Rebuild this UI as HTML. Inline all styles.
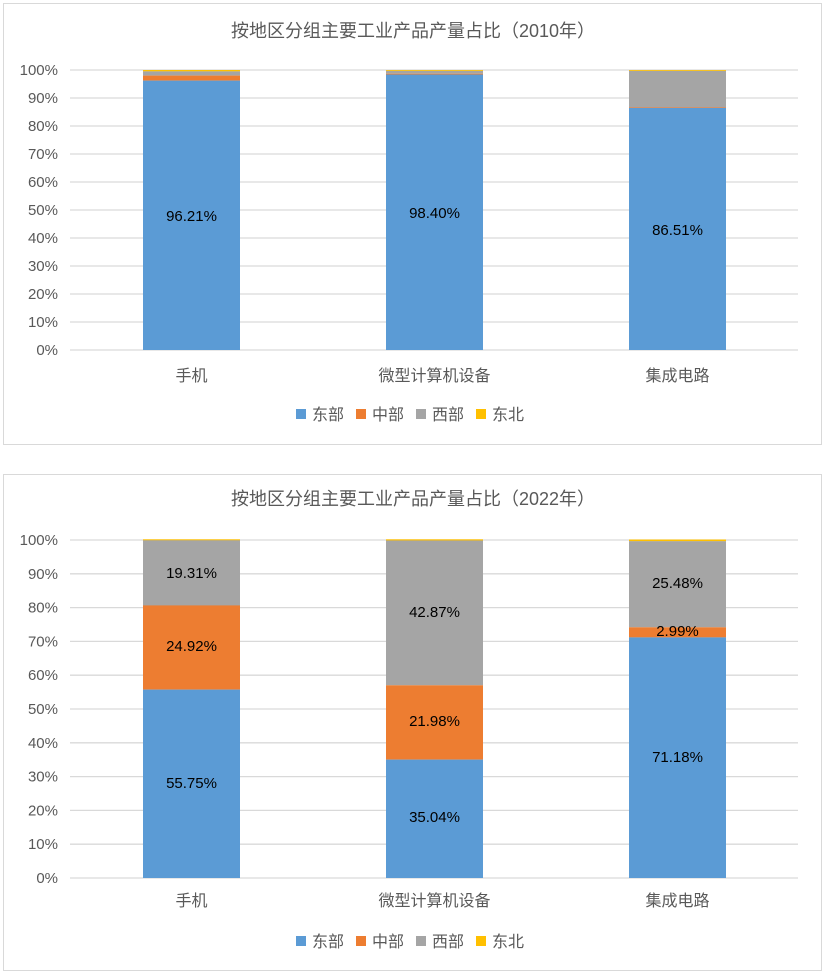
<!DOCTYPE html>
<html><head><meta charset="utf-8"><style>
body{margin:0;background:#fff;}
svg{display:block;font-family:"Liberation Sans","Noto Sans CJK SC",sans-serif;}
</style></head><body>
<svg width="826" height="976" viewBox="0 0 826 976" xmlns="http://www.w3.org/2000/svg">
<rect width="826" height="976" fill="#fff"/>
<rect x="3.5" y="3.5" width="818" height="441" fill="#fff" stroke="#d9d9d9"/>
<rect x="3.5" y="474.5" width="818" height="496" fill="#fff" stroke="#d9d9d9"/>
<g fill="#595959" font-size="18" text-anchor="middle">
<text x="413" y="37">按地区分组主要工业产品产量占比（2010年）</text>
<text x="413" y="505">按地区分组主要工业产品产量占比（2022年）</text>
</g>
<g stroke="#d9d9d9" stroke-width="1.3">
<line x1="70" x2="798" y1="70" y2="70"/><line x1="70" x2="798" y1="98" y2="98"/><line x1="70" x2="798" y1="126" y2="126"/><line x1="70" x2="798" y1="154" y2="154"/><line x1="70" x2="798" y1="182" y2="182"/><line x1="70" x2="798" y1="210" y2="210"/><line x1="70" x2="798" y1="238" y2="238"/><line x1="70" x2="798" y1="266" y2="266"/><line x1="70" x2="798" y1="294" y2="294"/><line x1="70" x2="798" y1="322" y2="322"/><line x1="70" x2="798" y1="350" y2="350"/>
<line x1="70" x2="798" y1="540" y2="540"/><line x1="70" x2="798" y1="573.8" y2="573.8"/><line x1="70" x2="798" y1="607.6" y2="607.6"/><line x1="70" x2="798" y1="641.4" y2="641.4"/><line x1="70" x2="798" y1="675.2" y2="675.2"/><line x1="70" x2="798" y1="709" y2="709"/><line x1="70" x2="798" y1="742.8" y2="742.8"/><line x1="70" x2="798" y1="776.6" y2="776.6"/><line x1="70" x2="798" y1="810.4" y2="810.4"/><line x1="70" x2="798" y1="844.2" y2="844.2"/><line x1="70" x2="798" y1="878" y2="878"/>
</g>
<g fill="#595959" font-size="15" text-anchor="end">
<text x="58" y="75">100%</text><text x="58" y="103">90%</text><text x="58" y="131">80%</text><text x="58" y="159">70%</text><text x="58" y="187">60%</text><text x="58" y="215">50%</text><text x="58" y="243">40%</text><text x="58" y="271">30%</text><text x="58" y="299">20%</text><text x="58" y="327">10%</text><text x="58" y="355">0%</text>
<text x="58" y="545">100%</text><text x="58" y="579">90%</text><text x="58" y="612.6">80%</text><text x="58" y="646.4">70%</text><text x="58" y="680.2">60%</text><text x="58" y="714">50%</text><text x="58" y="747.8">40%</text><text x="58" y="781.6">30%</text><text x="58" y="815.4">20%</text><text x="58" y="849.2">10%</text><text x="58" y="883">0%</text>
</g>
<rect x="143" y="70" width="97" height="1.4" fill="#ffc000"/>
<rect x="143" y="71.4" width="97" height="4.2" fill="#a5a5a5"/>
<rect x="143" y="75.6" width="97" height="5" fill="#ed7d31"/>
<rect x="143" y="80.6" width="97" height="269.4" fill="#5b9bd5"/>
<rect x="386" y="70" width="97" height="0.9" fill="#ffc000"/>
<rect x="386" y="70.9" width="97" height="2.8" fill="#a5a5a5"/>
<rect x="386" y="73.7" width="97" height="0.8" fill="#ed7d31"/>
<rect x="386" y="74.5" width="97" height="275.5" fill="#5b9bd5"/>
<rect x="629" y="70" width="97" height="0.9" fill="#ffc000"/>
<rect x="629" y="70.9" width="97" height="36.1" fill="#a5a5a5"/>
<rect x="629" y="107" width="97" height="0.8" fill="#ed7d31"/>
<rect x="629" y="107.8" width="97" height="242.2" fill="#5b9bd5"/>
<rect x="143" y="539.3" width="97" height="1.2" fill="#ffc000"/>
<rect x="143" y="540.3" width="97" height="65.3" fill="#a5a5a5"/>
<rect x="143" y="605.4" width="97" height="84.2" fill="#ed7d31"/>
<rect x="143" y="689.6" width="97" height="188.4" fill="#5b9bd5"/>
<rect x="386" y="539.3" width="97" height="1.4" fill="#ffc000"/>
<rect x="386" y="540.5" width="97" height="144.8" fill="#a5a5a5"/>
<rect x="386" y="685.3" width="97" height="74.3" fill="#ed7d31"/>
<rect x="386" y="759.6" width="97" height="118.4" fill="#5b9bd5"/>
<rect x="629" y="539.5" width="97" height="1.8" fill="#ffc000"/>
<rect x="629" y="541.2" width="97" height="86.1" fill="#a5a5a5"/>
<rect x="629" y="627.3" width="97" height="10.1" fill="#ed7d31"/>
<rect x="629" y="637.4" width="97" height="240.6" fill="#5b9bd5"/>
<g fill="#000" font-size="15" text-anchor="middle">
<text x="191.5" y="221">96.21%</text><text x="434.5" y="218">98.40%</text><text x="677.5" y="235">86.51%</text>
<text x="191.5" y="578">19.31%</text><text x="191.5" y="651">24.92%</text><text x="191.5" y="788">55.75%</text>
<text x="434.5" y="617">42.87%</text><text x="434.5" y="726">21.98%</text><text x="434.5" y="822">35.04%</text>
<text x="677.5" y="588">25.48%</text><text x="677.5" y="636">2.99%</text><text x="677.5" y="762">71.18%</text>
</g>
<g fill="#595959" font-size="16" text-anchor="middle">
<text x="191.5" y="381">手机</text><text x="434.5" y="381">微型计算机设备</text><text x="677.5" y="381">集成电路</text>
<text x="191.5" y="906">手机</text><text x="434.5" y="906">微型计算机设备</text><text x="677.5" y="906">集成电路</text>
</g>
<g fill="#595959" font-size="16">
<rect x="296" y="409" width="10" height="10" fill="#5b9bd5"/><text x="312" y="420">东部</text>
<rect x="356" y="409" width="10" height="10" fill="#ed7d31"/><text x="372" y="420">中部</text>
<rect x="416" y="409" width="10" height="10" fill="#a5a5a5"/><text x="432" y="420">西部</text>
<rect x="476" y="409" width="10" height="10" fill="#ffc000"/><text x="492" y="420">东北</text>
<rect x="296" y="936" width="10" height="10" fill="#5b9bd5"/><text x="312" y="947">东部</text>
<rect x="356" y="936" width="10" height="10" fill="#ed7d31"/><text x="372" y="947">中部</text>
<rect x="416" y="936" width="10" height="10" fill="#a5a5a5"/><text x="432" y="947">西部</text>
<rect x="476" y="936" width="10" height="10" fill="#ffc000"/><text x="492" y="947">东北</text>
</g>
</svg>
</body></html>
